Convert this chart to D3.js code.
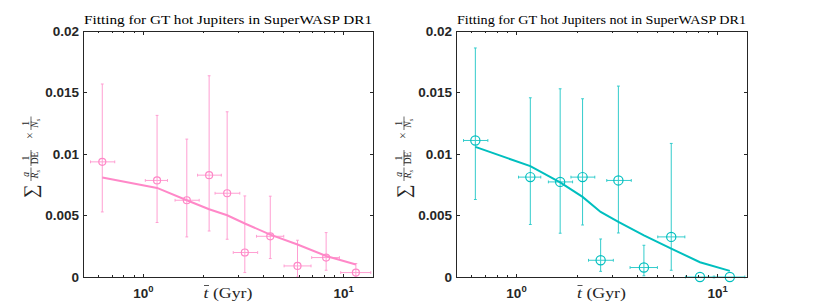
<!DOCTYPE html>
<html><head><meta charset="utf-8">
<script src="https://cdn.jsdelivr.net/npm/d3@7"></script>
<style>body{margin:0;background:#fff}svg{display:block}</style>
</head><body>
<svg id="c" width="830" height="308"></svg>
<script>
// ---- data ----
const tBins = [0.624, 1.171, 1.648, 2.13, 2.62, 3.21, 4.30, 5.88, 8.17, 11.5];
const tLo   = [0.545, 1.023, 1.44, 1.865, 2.28, 2.81, 3.67, 5.04, 6.92, 9.66];
const tHi   = [0.72, 1.32, 1.90, 2.45, 3.03, 3.72, 5.02, 6.87, 9.52, 13.65];

const inVals  = [0.00936, 0.00785, 0.00624, 0.00828, 0.00681, 0.00199, 0.00331, 0.0009, 0.00158, 0.00036];
const inLo    = [0.00529, 0.00443, 0.00326, 0.00374, 0.00307, 0.00036, 0.0015, 0.0, 0.00055, 0.0];
const inHi    = [0.01569, 0.01314, 0.01121, 0.01636, 0.01343, 0.00659, 0.00657, 0.00299, 0.00361, 0.00109];
const inFit   = [0.00809, 0.00724, 0.00624, 0.00551, 0.00502, 0.00435, 0.00345, 0.00264, 0.00171, 0.00101];

const notVals = [0.0111, 0.00812, 0.00773, 0.00812, 0.00136, 0.00785, 0.00077, 0.00326, 0.0, 0.0];
const notLo   = [0.0063, 0.00427, 0.00356, 0.00423, 0.00046, 0.00358, 0.0001, 0.00055, 0.0, 0.0];
const notHi   = [0.01862, 0.01457, 0.0153, 0.01449, 0.00309, 0.01552, 0.00258, 0.01086, 0.0, 0.0];
const notFit  = [0.01058, 0.00901, 0.0077, 0.00651, 0.00529, 0.00449, 0.00339, 0.00231, 0.0012, 0.0005];

const yTicks = [0, 0.005, 0.01, 0.015, 0.02];
const yTickLabels = ["0", "0.005", "0.01", "0.015", "0.02"];
const xMajor = [1, 10];
const xMajorExp = ["0", "1"];
const xMinor = [0.6, 0.7, 0.8, 0.9, 2, 3, 4, 5, 6, 7, 8, 9];
const titles = ["Fitting for GT hot Jupiters in SuperWASP DR1", "Fitting for GT hot Jupiters not in SuperWASP DR1"];

// ---- layout ----
const svg = d3.select("#c");
const yTop = 31, yBot = 277;
const panels = [
  {x0: 83, x1: 373, vals: inVals, lo: inLo, hi: inHi, fit: inFit, line: "#ff88c8", err: "#ff9fd2", r: 3.5, title: titles[0]},
  {x0: 456, x1: 747, vals: notVals, lo: notLo, hi: notHi, fit: notFit, line: "#00bfbf", err: "#33cccc", r: 4.6, title: titles[1]}
];
const axisCol = "#262626";

panels.forEach(p => {
  const g = svg.append("g");
  const x = d3.scaleLog().domain([0.5, 14]).range([p.x0, p.x1]);
  const y = d3.scaleLinear().domain([0, 0.02]).range([yBot, yTop]);
  const idx = d3.range(tBins.length);

  // error bars
  const eb = g.append("g").attr("stroke", p.err).attr("stroke-width", 1).attr("fill", "none");
  const cap = 1.4;
  idx.forEach(i => {
    const cx = x(tBins[i]), cy = y(p.vals[i]);
    if (p.hi[i] > p.lo[i]) {
      eb.append("line").attr("x1", cx).attr("x2", cx).attr("y1", y(p.lo[i])).attr("y2", y(p.hi[i]));
      eb.append("line").attr("x1", cx - cap).attr("x2", cx + cap).attr("y1", y(p.lo[i])).attr("y2", y(p.lo[i]));
      eb.append("line").attr("x1", cx - cap).attr("x2", cx + cap).attr("y1", y(p.hi[i])).attr("y2", y(p.hi[i]));
    }
    eb.append("line").attr("x1", x(tLo[i])).attr("x2", x(tHi[i])).attr("y1", cy).attr("y2", cy);
    eb.append("line").attr("x1", x(tLo[i])).attr("x2", x(tLo[i])).attr("y1", cy - cap).attr("y2", cy + cap);
    eb.append("line").attr("x1", x(tHi[i])).attr("x2", x(tHi[i])).attr("y1", cy - cap).attr("y2", cy + cap);
  });

  // fit line
  g.append("path")
    .attr("d", d3.line().x(i => x(tBins[i])).y(i => y(p.fit[i]))(idx))
    .attr("fill", "none").attr("stroke", p.line).attr("stroke-width", 2);

  // markers
  g.selectAll("circle.m").data(idx).join("circle")
    .attr("cx", i => x(tBins[i])).attr("cy", i => y(p.vals[i])).attr("r", p.r)
    .attr("fill", "none").attr("stroke", p.line).attr("stroke-width", 1.2);

  // axes box
  g.append("rect").attr("x", p.x0).attr("y", yTop).attr("width", p.x1 - p.x0).attr("height", yBot - yTop)
    .attr("fill", "none").attr("stroke", axisCol).attr("stroke-width", 1).attr("shape-rendering", "crispEdges");

  const tk = g.append("g").attr("stroke", axisCol).attr("stroke-width", 1).attr("shape-rendering", "crispEdges");
  yTicks.forEach(v => {
    tk.append("line").attr("x1", p.x0).attr("x2", p.x0 + 3.5).attr("y1", y(v)).attr("y2", y(v));
    tk.append("line").attr("x1", p.x1).attr("x2", p.x1 - 3.5).attr("y1", y(v)).attr("y2", y(v));
  });
  xMajor.forEach(v => {
    tk.append("line").attr("x1", x(v)).attr("x2", x(v)).attr("y1", yBot).attr("y2", yBot - 3.5);
    tk.append("line").attr("x1", x(v)).attr("x2", x(v)).attr("y1", yTop).attr("y2", yTop + 3.5);
  });
  xMinor.forEach(v => {
    tk.append("line").attr("x1", x(v)).attr("x2", x(v)).attr("y1", yBot).attr("y2", yBot - 2.2);
    tk.append("line").attr("x1", x(v)).attr("x2", x(v)).attr("y1", yTop).attr("y2", yTop + 2.2);
  });

  // y tick labels
  g.append("g").selectAll("text").data(yTicks).join("text")
    .attr("x", p.x0 - 4).attr("y", v => y(v)).attr("dy", "0.36em")
    .attr("text-anchor", "end").attr("font-family", "Liberation Sans, Arial, sans-serif")
    .attr("font-weight", "bold").attr("font-size", 13.5).attr("fill", axisCol)
    .text((v, i) => yTickLabels[i]);

  // x tick labels (10^n)
  xMajor.forEach((v, i) => {
    const t = g.append("text").attr("x", x(v)).attr("y", 297.5).attr("text-anchor", "middle")
      .attr("font-family", "Liberation Sans, Arial, sans-serif").attr("font-weight", "bold")
      .attr("font-size", 13.5).attr("fill", axisCol);
    t.append("tspan").text("10");
    t.append("tspan").attr("font-size", 9.5).attr("dy", -6).text(xMajorExp[i]);
  });

  // title
  g.append("text").attr("x", (p.x0 + p.x1) / 2).attr("y", 24).attr("text-anchor", "middle")
    .attr("font-family", "Liberation Serif, Times New Roman, serif").attr("font-size", 12.5)
    .attr("fill", "#000").attr("textLength", p.x1 - p.x0 - 2).attr("lengthAdjust", "spacingAndGlyphs")
    .text(p.title);

  // x label
  const cxl = (p.x0 + p.x1) / 2;
  const xl = g.append("text").attr("x", cxl).attr("y", 297.5).attr("text-anchor", "middle")
    .attr("font-family", "Liberation Serif, Times New Roman, serif").attr("font-size", 15).attr("fill", axisCol)
    .attr("textLength", 49).attr("lengthAdjust", "spacingAndGlyphs");
  xl.append("tspan").attr("font-style", "italic").text("t");
  xl.append("tspan").text(" (Gyr)");
  g.append("line").attr("x1", cxl - 24).attr("x2", cxl - 19).attr("y1", 285.5).attr("y2", 285.5)
    .attr("stroke", axisCol).attr("stroke-width", 0.8);

  // y label (rotated math)
  const yl = g.append("g").attr("transform", `translate(${p.x0 - 52},157) rotate(-90)`)
    .attr("fill", axisCol).attr("font-family", "Liberation Serif, Times New Roman, serif");
  yl.append("text").attr("x", -41).attr("y", 6).attr("font-size", 19).text("\u2211");
  const frac = (u0, u1, num, den, denSub, numItalic, denItalic) => {
    const uc = (u0 + u1) / 2;
    yl.append("text").attr("x", uc).attr("y", -1.8).attr("text-anchor", "middle").attr("font-size", 9.5)
      .attr("font-style", numItalic ? "italic" : "normal").text(num);
    const d = yl.append("text").attr("x", uc).attr("y", 7.4).attr("text-anchor", "middle").attr("font-size", 9.5);
    d.append("tspan").attr("font-style", denItalic ? "italic" : "normal").text(den);
    if (denSub) d.append("tspan").attr("font-size", 6.5).attr("dy", 1.5).attr("font-style", "italic").text(denSub);
    yl.append("line").attr("x1", u0).attr("x2", u1).attr("y1", 0).attr("y2", 0)
      .attr("stroke", axisCol).attr("stroke-width", 0.7);
  };
  frac(-24, -10.5, "a", "R", "s", true, true);
  frac(-9, 7, "1", "DE", null, false, false);
  yl.append("text").attr("x", 21.5).attr("y", 3.2).attr("text-anchor", "middle").attr("font-size", 12).text("\u00d7");
  frac(27, 40.5, "1", "N", "s", false, true);
});
</script>
</body></html>
